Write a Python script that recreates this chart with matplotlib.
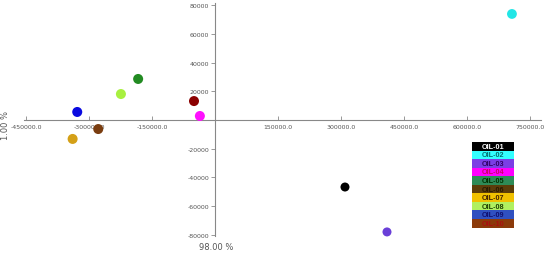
import matplotlib
matplotlib.use("Agg")
import matplotlib.pyplot as plt
from matplotlib.patches import Rectangle

labels = ["OIL-01", "OIL-02", "OIL-03", "OIL-04", "OIL-05",
          "OIL-06", "OIL-07", "OIL-08", "OIL-09", "OIL-10"]
x_vals = [309500, 707000, 409500, -36000, -183000,
          -278000, -339000, -224000, -328000, -50000]
y_vals = [-46700, 73900, -78000, 2800, 28600,
          -6300, -13200, 18100, 5600, 13200]
point_colors = ["#000000", "#22e6e6", "#6a3fd8", "#ff10ff", "#228b22",
                "#7a3d10", "#d4a017", "#a8f040", "#0a0ae0", "#8b0000"]
point_sizes = [42, 50, 42, 52, 52, 52, 52, 52, 52, 52]
legend_bg = ["#000000", "#33ffff", "#7b3fe4", "#ff00ff", "#2e8b57",
             "#5c3d0a", "#f0c000", "#b0f060", "#3050c0", "#8b3a0a"]
legend_fg = ["#ffffff", "#007070", "#330066", "#cc0066", "#003300",
             "#2a1a00", "#402000", "#204000", "#101070", "#aa1010"]
xticks = [-450000, -300000, -150000, 150000, 300000, 450000, 600000, 750000]
yticks = [-80000, -60000, -40000, -20000, 20000, 40000, 60000, 80000]
xlabel = "98.00 %"
ylabel = "1.00 %"

W, H = 550, 255
fig = plt.figure(figsize=(W / 100, H / 100), dpi=100)
ax = fig.add_axes([0, 0, 1, 1])
ax.set_xlim(-511905, 797619)
ax.set_ylim(-93380, 84321)

for s in ["top", "right"]:
    ax.spines[s].set_visible(False)
ax.spines["left"].set_position(("data", 0))
ax.spines["bottom"].set_position(("data", 0))
ax.spines["left"].set_bounds(-81000, 81500)
ax.spines["bottom"].set_bounds(-455000, 775000)
for s in ["left", "bottom"]:
    ax.spines[s].set_color("#888888")
    ax.spines[s].set_linewidth(0.8)

ax.set_xticks(xticks)
ax.set_xticklabels([f"{v:.1f}" for v in xticks])
ax.set_yticks(yticks)
ax.set_yticklabels([f"{v}" for v in yticks])
ax.tick_params(axis="x", direction="in", length=3, width=0.6, color="#888888",
               labelsize=4.5, labelcolor="#555555", pad=3)
ax.tick_params(axis="y", direction="out", length=3, width=0.6, color="#888888",
               labelsize=4.5, labelcolor="#555555", pad=1)

ax.scatter(x_vals, y_vals, s=point_sizes, c=point_colors, edgecolors="none", zorder=3)

fig.text(6 / W, 1 - 126 / H, ylabel, rotation=90, ha="center", va="center",
         fontsize=6, color="#555555")
fig.text(216 / W, 1 - 248 / H, xlabel, ha="center", va="center",
         fontsize=6, color="#555555")

# legend
lx, lw = 472, 42
top, rh = 143, 8.55
for i, lab in enumerate(labels):
    y0 = top + i * rh
    fig.patches.append(Rectangle((lx / W, 1 - (y0 + rh) / H), lw / W, rh / H,
                                 transform=fig.transFigure, facecolor=legend_bg[i],
                                 edgecolor="none"))
    fig.text((lx + lw / 2) / W, 1 - (y0 + rh / 2) / H, lab, ha="center", va="center",
             fontsize=5.2, fontweight="bold", color=legend_fg[i],
             family=["Liberation Sans", "DejaVu Sans"])

fig.savefig("out.png", dpi=100)
